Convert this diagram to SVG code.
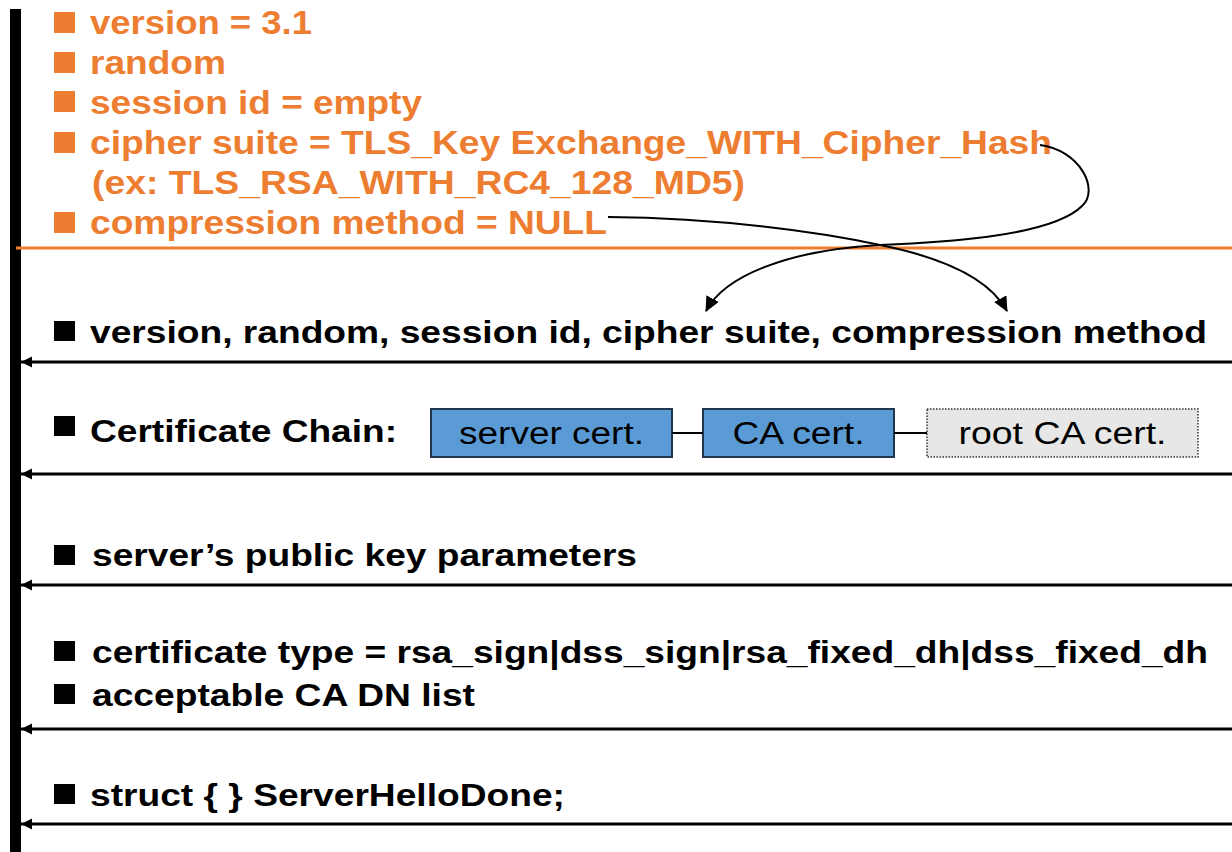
<svg xmlns="http://www.w3.org/2000/svg" width="1232" height="852" viewBox="0 0 1232 852">
<style>
.o{font-family:"Liberation Sans",Arial,sans-serif;font-weight:bold;font-size:33px;fill:#ED7D31}
.b{font-family:"Liberation Sans",Arial,sans-serif;font-weight:bold;font-size:32px;fill:#000}
.c{font-family:"Liberation Sans",Arial,sans-serif;font-size:31px;fill:#000;text-anchor:middle}
.ob{fill:#ED7D31}
.bb{fill:#000}
.msg{stroke:#000;stroke-width:3;fill:none}
.cv{stroke:#000;stroke-width:2;fill:none}
</style>
<defs>
<marker id="ah" markerWidth="12" markerHeight="12" refX="11" refY="5.5" orient="auto" markerUnits="userSpaceOnUse"><path d="M0,0 L11,5.5 L0,11 Z" fill="#000"/></marker>
<marker id="ch" markerWidth="16" markerHeight="14" refX="14" refY="7" orient="auto" markerUnits="userSpaceOnUse"><path d="M0,0 L15,7 L0,14 Z" fill="#000"/></marker>
</defs>
<rect x="10" y="9" width="11" height="843" fill="#000"/>
<g id="clienthello">
<rect class="ob" x="54" y="12" width="21" height="21"/><text class="o" x="90" y="34" textLength="222" lengthAdjust="spacingAndGlyphs">version = 3.1</text>
<rect class="ob" x="54" y="52" width="21" height="21"/><text class="o" x="90" y="74" textLength="136" lengthAdjust="spacingAndGlyphs">random</text>
<rect class="ob" x="54" y="91" width="21" height="21"/><text class="o" x="90" y="114" textLength="332" lengthAdjust="spacingAndGlyphs">session id = empty</text>
<rect class="ob" x="54" y="132" width="21" height="21"/><text class="o" x="90" y="154" textLength="962" lengthAdjust="spacingAndGlyphs">cipher suite = TLS_Key Exchange_WITH_Cipher_Hash</text>
<text class="o" x="92" y="194" textLength="653" lengthAdjust="spacingAndGlyphs">(ex: TLS_RSA_WITH_RC4_128_MD5)</text>
<rect class="ob" x="54" y="212" width="21" height="21"/><text class="o" x="90" y="234" textLength="517" lengthAdjust="spacingAndGlyphs">compression method = NULL</text>
<line x1="16" y1="248" x2="1232" y2="248" stroke="#ED7D31" stroke-width="3"/>
</g>
<g id="serverhello">
<rect class="bb" x="54" y="321" width="21" height="20"/><text class="b" x="90" y="343" textLength="1117" lengthAdjust="spacingAndGlyphs">version, random, session id, cipher suite, compression method</text>
</g>
<g id="certificate">
<rect class="bb" x="54" y="416" width="21" height="20"/><text class="b" x="90" y="442" textLength="307" lengthAdjust="spacingAndGlyphs">Certificate Chain:</text>
</g>
<g id="servercert"><rect x="431" y="409" width="241" height="48" fill="#5B9BD5" stroke="#1F3550" stroke-width="2"/><text class="c" x="551.5" y="444" textLength="185" lengthAdjust="spacingAndGlyphs">server cert.</text></g>
<g id="cacert"><rect x="703" y="409" width="191" height="48" fill="#5B9BD5" stroke="#1F3550" stroke-width="2"/><text class="c" x="798.5" y="444" textLength="132" lengthAdjust="spacingAndGlyphs">CA cert.</text></g>
<g id="rootcacert"><rect x="927" y="409" width="271" height="48" fill="#E7E7E7" stroke="#333" stroke-width="1.5" stroke-dasharray="1.5,1.5"/><text class="c" x="1062.5" y="444" textLength="208" lengthAdjust="spacingAndGlyphs">root CA cert.</text></g>
<g id="serverkeyexchange">
<rect class="bb" x="54" y="545" width="21" height="20"/><text class="b" x="92" y="566" textLength="545" lengthAdjust="spacingAndGlyphs">server’s public key parameters</text>
</g>
<g id="certificaterequest">
<rect class="bb" x="54" y="641" width="21" height="20"/><text class="b" x="92" y="663" textLength="1116" lengthAdjust="spacingAndGlyphs">certificate type = rsa_sign|dss_sign|rsa_fixed_dh|dss_fixed_dh</text>
<rect class="bb" x="54" y="684" width="21" height="20"/><text class="b" x="92" y="706" textLength="383" lengthAdjust="spacingAndGlyphs">acceptable CA DN list</text>
</g>
<g id="serverhellodone">
<rect class="bb" x="54" y="784" width="21" height="20"/><text class="b" x="90" y="806" textLength="475" lengthAdjust="spacingAndGlyphs">struct { } ServerHelloDone;</text>
</g>
<g id="connectors">
<line class="msg" x1="1232" y1="362" x2="21" y2="362" marker-end="url(#ah)"/>
<line class="msg" x1="1232" y1="474" x2="21" y2="474" marker-end="url(#ah)"/>
<line class="msg" x1="1232" y1="585" x2="21" y2="585" marker-end="url(#ah)"/>
<line class="msg" x1="1232" y1="729" x2="21" y2="729" marker-end="url(#ah)"/>
<line class="msg" x1="1232" y1="824" x2="21" y2="824" marker-end="url(#ah)"/>
<line x1="672" y1="433" x2="703" y2="433" stroke="#000" stroke-width="2"/>
<line x1="894" y1="433" x2="927" y2="433" stroke="#000" stroke-width="2"/>
<path class="cv" d="M1040,145 C1080,150 1100,190 1082,206 C1050,238 930,243 880,245 C790,250 725,275 706,311" marker-end="url(#ch)"/>
<path class="cv" d="M608,217 C720,218 820,232 880,245 C945,258 990,280 1007,311" marker-end="url(#ch)"/>
</g>
</svg>
